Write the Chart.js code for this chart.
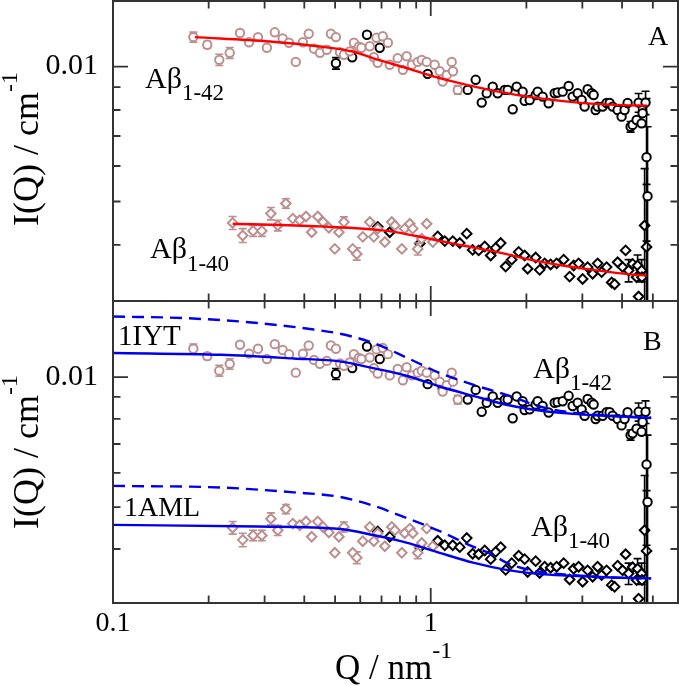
<!DOCTYPE html>
<html>
<head>
<meta charset="utf-8">
<script src="https://cdn.jsdelivr.net/npm/chart.js@4.4.1/dist/chart.umd.min.js"></script>
<style>
html,body{margin:0;padding:0;background:#fff;}
#wrap{position:relative;width:679px;height:686px;overflow:hidden;background:#fff;}
canvas{position:absolute;left:0;}
#cA{top:0;}
#cB{top:300px;}
</style>
</head>
<body>
<div id="wrap">
<canvas id="cA" width="679" height="303"></canvas>
<canvas id="cB" width="679" height="386"></canvas>
</div>
<script>
// ---------- DATA (Q in nm^-1, I in cm^-1, dI error) ----------
// Abeta 1-42, low-Q set (rosy circles)
const ab42Low = [
 [0.179,0.01163,0.0003],[0.198,0.01118,0.0002],[0.216,0.01035,0.0003],[0.233,0.01073,0.0003],
 [0.251,0.01188,0],[0.268,0.01133,0],[0.286,0.01163,0],[0.305,0.01101,0],[0.323,0.01192,0],
 [0.342,0.01155,0],[0.358,0.01130,0],[0.376,0.01024,0],[0.396,0.01133,0],[0.413,0.01183,0],
 [0.429,0.01096,0],[0.448,0.01073,0],[0.471,0.01090,0],[0.485,0.01183,0],[0.503,0.01163,0],
 [0.518,0.01076,0],[0.533,0.01062,0],[0.556,0.01081,0],[0.573,0.01130,0],[0.594,0.01107,0],
 [0.605,0.01101,0],[0.643,0.01110,0],[0.662,0.01049,0],[0.675,0.01159,0],[0.681,0.01019,0],
 [0.706,0.01168,0],[0.733,0.01130,0],[0.743,0.01009,0],[0.787,0.01044,0],[0.817,0.00983,0],
 [0.840,0.01054,0],[0.872,0.01009,0],[0.910,0.01024,0],[0.937,0.01035,0],[0.971,0.01024,0],
 [1.029,0.01009,0],[1.067,0.00976,0],[1.090,0.00926,0],[1.123,0.00958,0],[1.164,0.01024,0],
 [1.175,0.00976,0],[1.216,0.00887,0.0002]
];
// Abeta 1-42, high-Q set (black circles)
const ab42High = [
 [0.503,0.01017,0.0003],[0.566,0.01049,0],[0.630,0.01177,0],[0.691,0.01101,0],[0.978,0.00963,0],
 [1.090,0.00943,0],[1.307,0.00887,0],[1.385,0.00934,0],[1.447,0.00831,0],[1.500,0.00872,0],
 [1.567,0.00902,0],[1.624,0.00872,0],[1.709,0.00887,0],[1.746,0.00887,0],[1.811,0.00803,0],
 [1.864,0.00902,0],[1.946,0.00879,0],[1.975,0.00839,0],[2.048,0.00842,0],[2.139,0.00864,0],
 [2.170,0.00879,0],[2.250,0.00857,0],[2.350,0.00828,0],[2.455,0.00872,0],[2.508,0.00875,0],
 [2.601,0.00879,0],[2.716,0.00905,0],[2.796,0.00857,0],[2.900,0.00872,0],[2.985,0.00842,0],
 [3.050,0.00814,0],[3.117,0.00890,0],[3.209,0.00872,0],[3.256,0.00864,0],[3.303,0.00800,0],
 [3.351,0.00814,0],[3.475,0.00814,0],[3.577,0.00829,0],[3.656,0.00829,0],[3.736,0.00814,0],
 [3.874,0.00800,0],[3.987,0.00773,0],[4.074,0.00800,0],[4.164,0.00829,0],[4.255,0.00734,0.0002],
 [4.318,0.00741,0],[4.445,0.00760,0],[4.510,0.00831,0.0004],[4.609,0.00747,0],[4.642,0.00787,0],
 [4.743,0.00831,0.0005],[4.777,0.00628,0.0022],[4.812,0.00514,0.0022]
];
// Abeta 1-40, low-Q set (rosy diamonds)
const ab40Low = [
 [0.238,0.00448,0.00015],[0.256,0.00420,0.00015],[0.276,0.00430,0.00012],[0.294,0.00430,0.00012],
 [0.314,0.00470,0.00015],[0.330,0.00442,0.00012],[0.350,0.00495,0.00012],[0.368,0.00458,0],
 [0.387,0.00454,0],[0.405,0.00463,0],[0.422,0.00427,0],[0.441,0.00463,0],[0.458,0.00450,0],
 [0.478,0.00437,0],[0.499,0.00392,0],[0.514,0.00427,0],[0.533,0.00450,0.00012],[0.568,0.00392,0],
 [0.585,0.00382,0.00012],[0.611,0.00417,0],[0.643,0.00450,0],[0.662,0.00417,0],[0.681,0.00435,0],
 [0.717,0.00406,0],[0.754,0.00450,0],[0.771,0.00442,0],[0.811,0.00392,0],[0.828,0.00435,0],
 [0.859,0.00446,0],[0.878,0.00435,0],[0.910,0.00392,0.00012],[0.937,0.00413,0],[0.971,0.00446,0],
 [1.015,0.00406,0]
];
// Abeta 1-40, high-Q set (black diamonds)
const ab40High = [
 [0.681,0.00439,0],[0.743,0.00427,0],[0.924,0.00403,0],[1.052,0.00418,0],[1.107,0.00408,0],
 [1.173,0.00408,0],[1.234,0.00404,0],[1.298,0.00424,0],[1.355,0.00390,0],[1.415,0.00389,0],
 [1.479,0.00397,0],[1.544,0.00379,0],[1.601,0.00394,0],[1.660,0.00404,0],[1.721,0.00358,0],
 [1.798,0.00371,0],[1.891,0.00386,0],[1.975,0.00379,0],[2.018,0.00354,0],[2.139,0.00375,0],
 [2.202,0.00352,0],[2.283,0.00364,0],[2.384,0.00362,0],[2.490,0.00364,0],[2.620,0.00371,0],
 [2.736,0.00340,0],[2.817,0.00360,0],[2.920,0.00364,0],[3.006,0.00336,0],[3.117,0.00357,0],
 [3.232,0.00345,0],[3.351,0.00364,0],[3.450,0.00348,0],[3.577,0.00357,0],[3.710,0.00330,0],
 [3.790,0.00327,0],[3.874,0.00366,0],[4.017,0.00357,0],[4.105,0.00389,0],[4.195,0.00351,0.0002],
 [4.318,0.00363,0],[4.445,0.00339,0],[4.477,0.00360,0.0002],[4.510,0.00307,0],[4.609,0.00351,0.0002],
 [4.620,0.00339,0],[4.710,0.00442,0.0015],[4.777,0.00396,0.0015]
];
// Panel A fits (red)
const fitA42 = [[0.181,0.01163],[0.312,0.01137],[0.448,0.01108],[0.568,0.01080],[0.657,0.01044],
 [0.840,0.00992],[1.067,0.00942],[1.298,0.00910],[1.533,0.00887],[1.946,0.00860],[2.796,0.00833],
 [4.017,0.00820],[4.800,0.00818]];
const fitA40 = [[0.238,0.00446],[0.448,0.00440],[0.727,0.00430],[0.993,0.00413],[1.261,0.00399],
 [1.613,0.00386],[2.048,0.00371],[2.601,0.00360],[3.327,0.00351],[4.225,0.00344],[4.780,0.00342]];
// Panel B model curves (blue): solid = fitted, dashed = structure prediction
const fit1IYT = [[0.1,0.01137],[0.2193,0.01126],[0.3706,0.01104],[0.5176,0.01087],[0.6586,0.01049],
 [0.8385,0.01007],[1.067,0.00951],[1.359,0.00905],[1.73,0.00863],[2.202,0.00837],[2.804,0.00822],
 [3.57,0.00814],[4.94,0.00804]];
const pred1IYT = [[0.1,0.01381],[0.1687,0.01369],[0.2851,0.01334],[0.4226,0.01290],[0.5176,0.01260],
 [0.6586,0.01200],[0.8385,0.01110],[1.067,0.01022],[1.359,0.00960],[1.73,0.00910],[2.202,0.00855],
 [2.804,0.00827],[3.57,0.00815],[4.94,0.00805]];
const fit1AML = [[0.1,0.00455],[0.2851,0.00451],[0.5176,0.00445],[0.6586,0.00431],[0.8385,0.00414],
 [1.067,0.00392],[1.359,0.00372],[1.73,0.00358],[2.202,0.00350],[2.804,0.00347],[3.57,0.00344],
 [4.94,0.00342]];
const pred1AML = [[0.1,0.00560],[0.2193,0.00555],[0.3706,0.00541],[0.5176,0.00528],[0.6586,0.00504],
 [0.8385,0.00472],[1.067,0.00440],[1.359,0.00405],[1.555,0.00389],[1.73,0.00372],[2.202,0.00354],
 [2.804,0.00348],[3.57,0.00344],[4.94,0.00342]];

// ---------- TICKS ----------
const xLabelValues = [0.1, 1];
const xTickLabels = ['0.1', '1'];
const yLabelValues = [0.01];
const yTickLabels = ['0.01'];
const xTickMarks = [0.1,0.2,0.3,0.4,0.5,0.6,0.7,0.8,0.9,1,2,3,4,5];
const yTickMarks = [0.004,0.005,0.006,0.007,0.008,0.009,0.01];
const majorTicks = [0.1, 1, 0.01];

// ---------- STYLE ----------
const ROSY = '#bc8f8f', BLACK = '#000', RED = '#ff0000', BLUE = '#0000ee', FRAME = '#333';
const SERIF = '"Liberation Serif", "Times New Roman", serif';

function toPts(arr){ return arr.map(r => ({x: r[0], y: r[1]})); }
function pointSet(arr, color, style, r){
  return { data: toPts(arr), errors: arr.map(r => r[2] || 0), showLine: false,
    borderColor: color, backgroundColor: '#fff', pointBackgroundColor: '#fff', pointBorderColor: color,
    pointStyle: style, pointRadius: r, pointHoverRadius: r, pointBorderWidth: 2 };
}
function lineSet(arr, color, dash){
  return { data: toPts(arr), showLine: true, borderColor: color, borderWidth: 2.4,
    pointRadius: 0, pointHoverRadius: 0, borderDash: dash || [], cubicInterpolationMode: 'monotone', fill: false };
}

const errorBars = {
  id: 'errorBars',
  beforeDatasetDraw(chart, args){
    const ds = chart.data.datasets[args.index];
    if (!ds.errors) return;
    const {ctx, chartArea: a, scales: {x, y}} = chart;
    ctx.save();
    ctx.beginPath(); ctx.rect(a.left, a.top, a.right - a.left, a.bottom - a.top); ctx.clip();
    ctx.strokeStyle = ds.borderColor; ctx.lineWidth = 1.6;
    ds.data.forEach((p, i) => {
      const e = ds.errors[i]; if (!e) return;
      const px = x.getPixelForValue(p.x);
      const yt = y.getPixelForValue(p.y + e);
      const yb = y.getPixelForValue(Math.max(p.y - e, 1e-5));
      ctx.beginPath();
      ctx.moveTo(px, yt); ctx.lineTo(px, yb);
      ctx.moveTo(px - 4, yt); ctx.lineTo(px + 4, yt);
      ctx.moveTo(px - 4, yb); ctx.lineTo(px + 4, yb);
      ctx.stroke();
    });
    ctx.restore();
  }
};

const frameTicks = {
  id: 'frameTicks',
  afterDatasetsDraw(chart){
    const {ctx, chartArea: a, scales: {x, y}} = chart;
    ctx.save();
    ctx.strokeStyle = FRAME; ctx.lineWidth = 1.8;
    xTickMarks.forEach(v => {
      const p = x.getPixelForValue(v); const L = majorTicks.includes(v) ? 15 : 7.5;
      ctx.beginPath();
      ctx.moveTo(p, a.bottom); ctx.lineTo(p, a.bottom - L);
      ctx.moveTo(p, a.top); ctx.lineTo(p, a.top + L);
      ctx.stroke();
    });
    yTickMarks.forEach(v => {
      const p = y.getPixelForValue(v); const L = majorTicks.includes(v) ? 15 : 7.5;
      ctx.beginPath();
      ctx.moveTo(a.left, p); ctx.lineTo(a.left + L, p);
      ctx.moveTo(a.right, p); ctx.lineTo(a.right - L, p);
      ctx.stroke();
    });
    ctx.lineWidth = 2;
    ctx.strokeRect(a.left, a.top, a.right - a.left, a.bottom - a.top);
    ctx.restore();
  }
};

const richText = {
  id: 'richText',
  afterDraw(chart, args, opts){
    const ctx = chart.ctx;
    (opts.items || []).forEach(it => {
      ctx.save();
      ctx.fillStyle = '#000'; ctx.textBaseline = 'alphabetic'; ctx.textAlign = 'left';
      let w = 0;
      it.parts.forEach(p => { ctx.font = p.size + 'px ' + SERIF; p._w = ctx.measureText(p.t).width; w += p._w; });
      ctx.translate(it.x, it.y);
      if (it.rotate) ctx.rotate(-Math.PI / 2);
      let cx = it.center ? -w / 2 : 0;
      it.parts.forEach(p => { ctx.font = p.size + 'px ' + SERIF; ctx.fillText(p.t, cx, p.dy || 0); cx += p._w; });
      ctx.restore();
    });
  }
};

function yAxis(min, max){
  return {
    type: 'logarithmic', min: min, max: max, position: 'left',
    afterFit: s => { s.width = 113; s.paddingTop = 0; s.paddingBottom = 0; },
    afterBuildTicks: s => { s.ticks = yLabelValues.map(v => ({value: v})); },
    ticks: { callback: (v, i) => yTickLabels[i], font: {family: SERIF, size: 30, lineHeight: 1}, color: '#000', padding: 7, autoSkip: false },
    grid: { display: false }, border: { display: false }
  };
}

const common = {
  responsive: false, animation: false, events: [],
  plugins: { legend: {display: false}, tooltip: {enabled: false} }
};

new Chart(document.getElementById('cA'), {
  type: 'scatter',
  data: { datasets: [
    lineSet(fitA42, RED), lineSet(fitA40, RED),
    pointSet(ab42Low, ROSY, 'circle', 4.2), pointSet(ab40Low, ROSY, 'rectRot', 4.8),
    pointSet(ab42High, BLACK, 'circle', 4.2), pointSet(ab40High, BLACK, 'rectRot', 4.8)
  ]},
  options: Object.assign({}, common, {
    layout: { autoPadding: false, padding: {top: 1, right: 1, bottom: 2, left: 0} },
    scales: {
      x: { type: 'logarithmic', min: 0.1, max: 6, display: false },
      y: yAxis(0.003, 0.014)
    },
    plugins: Object.assign({}, common.plugins, { richText: { items: [
      {x: 648, y: 45, parts: [{t: 'A', size: 28}]},
      {x: 145, y: 88, parts: [{t: 'Aβ', size: 30}, {t: '1-42', size: 23, dy: 12}]},
      {x: 150, y: 258, parts: [{t: 'Aβ', size: 30}, {t: '1-40', size: 23, dy: 13}]},
      {x: 38, y: 149, rotate: true, center: true, parts: [{t: 'I(Q) / cm', size: 36}, {t: '-1', size: 24, dy: -21}]}
    ]}})
  }),
  plugins: [errorBars, frameTicks, richText]
});

new Chart(document.getElementById('cB'), {
  type: 'scatter',
  data: { datasets: [
    lineSet(fit1IYT, BLUE), lineSet(pred1IYT, BLUE, [12, 7]),
    lineSet(fit1AML, BLUE), lineSet(pred1AML, BLUE, [12, 7]),
    pointSet(ab42Low, ROSY, 'circle', 4.2), pointSet(ab40Low, ROSY, 'rectRot', 4.8),
    pointSet(ab42High, BLACK, 'circle', 4.2), pointSet(ab40High, BLACK, 'rectRot', 4.8)
  ]},
  options: Object.assign({}, common, {
    layout: { autoPadding: false, padding: {top: 1, right: 1, bottom: 0, left: 0} },
    scales: {
      x: {
        type: 'logarithmic', min: 0.1, max: 6,
        afterFit: s => { s.height = 83; s.paddingLeft = 0; s.paddingRight = 0; },
        afterBuildTicks: s => { s.ticks = xLabelValues.map(v => ({value: v})); },
        ticks: { callback: (v, i) => xTickLabels[i], font: {family: SERIF, size: 28, lineHeight: 1}, color: '#000', padding: -1, autoSkip: false, maxRotation: 0 },
        grid: { display: false }, border: { display: false }
      },
      y: yAxis(0.003, 0.015)
    },
    plugins: Object.assign({}, common.plugins, { richText: { items: [
      {x: 643, y: 50, parts: [{t: 'B', size: 28}]},
      {x: 118, y: 45, parts: [{t: '1IYT', size: 29}]},
      {x: 124, y: 216, parts: [{t: '1AML', size: 28}]},
      {x: 533, y: 78, parts: [{t: 'Aβ', size: 30}, {t: '1-42', size: 23, dy: 12}]},
      {x: 531, y: 236, parts: [{t: 'Aβ', size: 30}, {t: '1-40', size: 23, dy: 12}]},
      {x: 38, y: 152, rotate: true, center: true, parts: [{t: 'I(Q) / cm', size: 36}, {t: '-1', size: 24, dy: -21}]},
      {x: 335, y: 379, parts: [{t: 'Q / nm', size: 35}, {t: '-1', size: 24, dy: -21}]}
    ]}})
  }),
  plugins: [errorBars, frameTicks, richText]
});
</script>
</body>
</html>
